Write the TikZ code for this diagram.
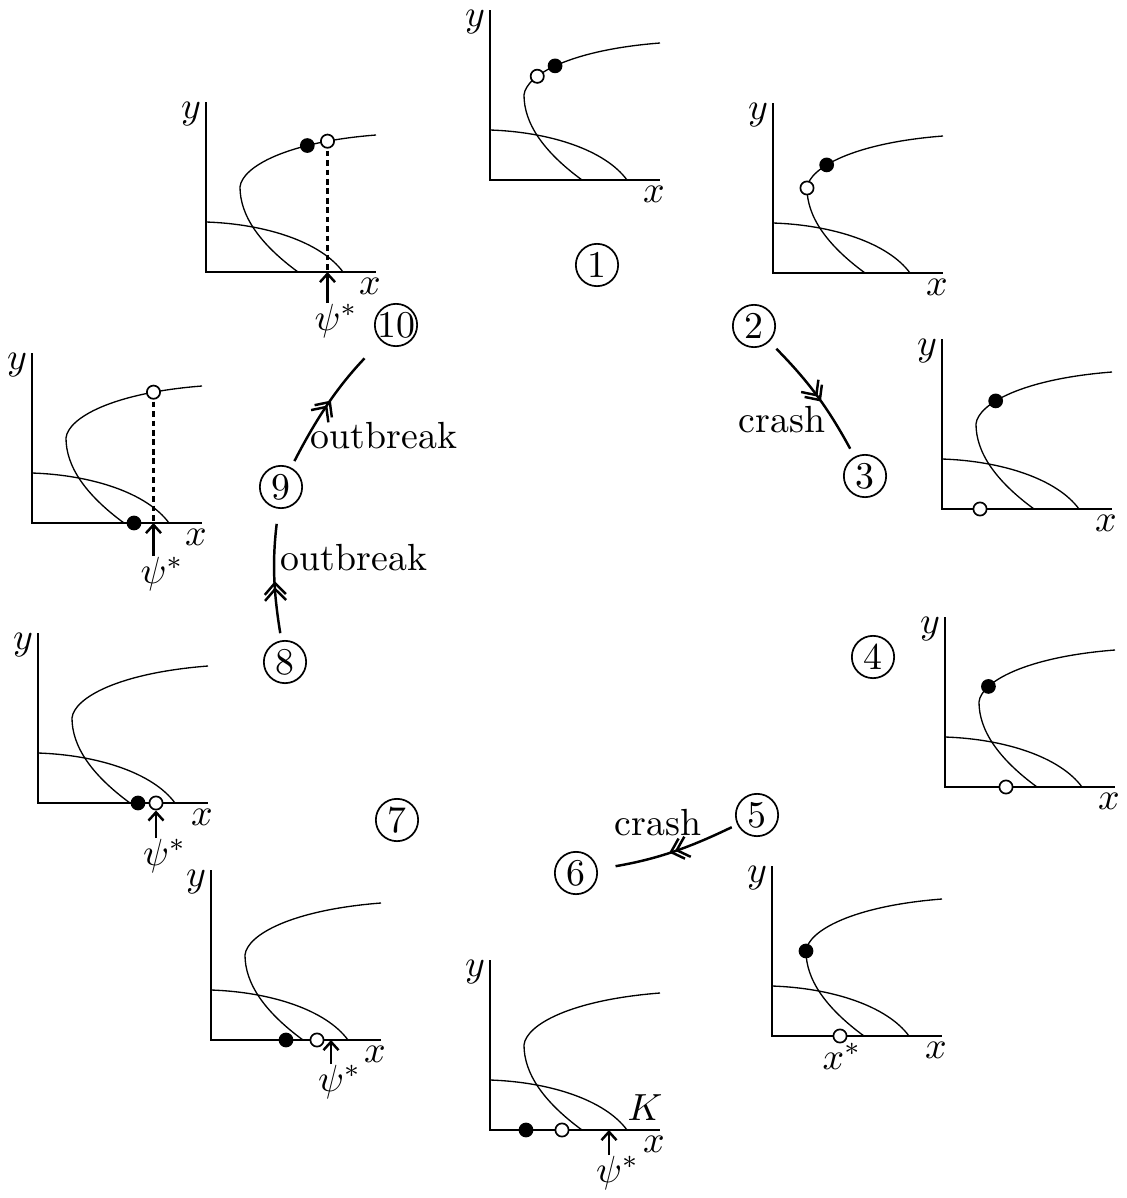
\documentclass[tikz,border=0pt]{standalone}
\usepackage{graphicx}
\usetikzlibrary{arrows.meta,decorations.markings}
\tikzset{
  x=0.2646pt, y=-0.2646pt,
  axisline/.style={line width=0.45pt},
  curveline/.style={line width=0.35pt},
  fulldot/.style={circle,fill=black,inner sep=0pt,minimum size=3.9pt},
  opendot/.style={circle,draw,fill=white,line width=0.45pt,inner sep=0pt,minimum size=3.5pt},
  num/.style={circle,draw,line width=0.45pt,inner sep=0pt,minimum size=11.2pt},
  psiarrow/.style={line width=0.65pt,-{Straight Barb[length=2.2pt,width=4pt]}},
  dashline/.style={dash pattern=on 1.5pt off 1pt, line width=0.6pt},
  conn/.style={line width=0.65pt, postaction=decorate, decoration={markings, mark=at position #1 with {\arrow{Straight Barb[length=3pt,width=5.6pt]}\pgftransformxshift{-1.6pt}\arrow{Straight Barb[length=3pt,width=5.6pt]}}}},
  lbl/.style={inner sep=0pt},
  plotbase/.pic={
    \draw[axisline] (0,-170) -- (0,0) -- (170,0);
    \draw[curveline] (0,-50) .. controls (60,-48) and (115,-30) .. (137,0);
    \draw[curveline] (92,0) .. controls (53.3,-28.4) and (34,-56.7) .. (34,-85) .. controls (36,-105) and (80,-130) .. (170,-137);
    \node[lbl] (-y) at (-15,-158) {$y$};
    \node[lbl] (-x) at (164,14) {$x$};
  }
}
\begin{document}
\begin{tikzpicture}
\useasboundingbox (0,0) rectangle (1126,1198);

% Plot 1
\begin{scope}[shift={(490,180)},yscale=-1]
  \pic (p1) {plotbase};
  \path (34,85) .. controls (36,105) and (80,130) .. (170,137)
     node[opendot,pos=0.3] (p1o) {} node[fulldot,pos=0.47] (p1f) {};
\end{scope}

% Plot 2
\begin{scope}[shift={(773,273)},yscale=-1]
  \pic (p2) {plotbase};
  \path (34,85) .. controls (36,105) and (80,130) .. (170,137)
     node[opendot,pos=0] (p2o) {} node[fulldot,pos=0.37] (p2f) {};
\end{scope}

% Plot 3
\begin{scope}[shift={(942,509)},yscale=-1]
  \pic (p3) {plotbase};
  \path (34,85) .. controls (36,105) and (80,130) .. (170,137)
     node[fulldot,pos=0.37] (p3f) {};
  \node[opendot] (p3o) at (38,0) {};
\end{scope}

% Plot 4
\begin{scope}[shift={(945,787)},yscale=-1]
  \pic (p4) {plotbase};
  \path (34,85) .. controls (36,105) and (80,130) .. (170,137)
     node[fulldot,pos=0.25] (p4f) {};
  \node[opendot] (p4o) at (61,0) {};
\end{scope}

% Plot 5
\begin{scope}[shift={(772,1036)},yscale=-1]
  \pic (p5) {plotbase};
  \node[fulldot] (p5f) at (34,85) {};
  \node[opendot] (p5o) at (68,0) {};
  \node[lbl] (p5s) at (70,-20) {$x^*$};
\end{scope}

% Plot 6
\begin{scope}[shift={(490,1130)},yscale=-1]
  \pic (p6) {plotbase};
  \coordinate (p6O) at (0,0);
  \node[fulldot] (p6f) at (36,0) {};
  \node[opendot] (p6o) at (72,0) {};
  \node[lbl] (p6k) at (155,22) {$K$};
  \node[lbl,anchor=north] (p6s) at (119,-25) {$\psi$\rlap{$^*$}};
  \draw[psiarrow] (p6s.north) -- (p6s.north |- p6O);
\end{scope}

% Plot 7
\begin{scope}[shift={(211,1040)},yscale=-1]
  \pic (p7) {plotbase};
  \coordinate (p7O) at (0,0);
  \node[fulldot] (p7f) at (75,0) {};
  \node[opendot] (p7o) at (106,0) {};
  \node[lbl,anchor=north] (p7s) at (120,-24) {$\psi$\rlap{$^*$}};
  \draw[psiarrow] (p7s.north) -- (p7s.north |- p7O);
\end{scope}

% Plot 8
\begin{scope}[shift={(38,803)},yscale=-1]
  \pic (p8) {plotbase};
  \node[fulldot] (p8f) at (100,0) {};
  \node[opendot] (p8o) at (118,0) {};
  \node[lbl,anchor=north] (p8s) at (118,-35) {$\psi$\rlap{$^*$}};
  \draw[psiarrow] (p8s.north) -- (p8o.south);
\end{scope}

% Plot 9
\begin{scope}[shift={(32,523)},yscale=-1]
  \pic (p9) {plotbase};
  \coordinate (p9O) at (0,0);
  \path (34,85) .. controls (36,105) and (80,130) .. (170,137)
     coordinate[pos=0.8] (p9c);
  \draw[dashline] (p9c) -- (p9c |- p9O);
  \node[opendot] (p9o) at (p9c) {};
  \node[fulldot] (p9f) at (102,0) {};
  \node[lbl,anchor=north] (p9s) at (121.5,-33) {$\psi$\rlap{$^*$}};
  \draw[psiarrow] (p9s.north) -- (p9s.north |- p9O);
\end{scope}

% Plot 10
\begin{scope}[shift={(206,272)},yscale=-1]
  \pic (p10) {plotbase};
  \coordinate (p10O) at (0,0);
  \path (34,85) .. controls (36,105) and (80,130) .. (170,137)
     coordinate[pos=0.8] (p10c) coordinate[pos=0.7] (p10d);
  \draw[dashline] (p10c) -- (p10c |- p10O);
  \node[opendot] (p10o) at (p10c) {};
  \node[fulldot] (p10f) at (p10d) {};
  \node[lbl,anchor=north] (p10s) at (121.5,-31) {$\psi$\rlap{$^*$}};
  \draw[psiarrow] (p10s.north) -- (p10s.north |- p10O);
\end{scope}

% Circled numbers
\node[num] (n1) at (597,265) {1};
\node[num] (n2) at (754,326) {2};
\node[num] (n3) at (865,476) {3};
\node[num] (n4) at (873,657) {4};
\node[num] (n5) at (757,815) {5};
\node[num] (n6) at (576,873) {6};
\node[num] (n7) at (397,820) {7};
\node[num] (n8) at (285,662) {8};
\node[num] (n9) at (281,487) {9};
\node[num] (n10) at (396,325) {\makebox[7pt]{10}};

% Connectors
\draw[conn=0.55, shorten <=2.6pt, shorten >=2.4pt] (n2) to[bend left=8] (n3);
\draw[conn=0.5, shorten <=1.6pt, shorten >=4.8pt] (n5) to[bend left=8] (n6);
\draw[conn=0.45, shorten <=1.9pt, shorten >=4pt] (n8) to[bend left=8] (n9);
\draw[conn=0.5, shorten <=1.9pt, shorten >=6.3pt] (n9) to[bend left=8] (n10);

% Labels
\node[lbl] (c1) at (782,420) {crash};
\node[lbl] (c2) at (658,823) {crash};
\node[lbl] (o1) at (384,436) {outbreak};
\node[lbl] (o2) at (354,558) {outbreak};
\end{tikzpicture}
\end{document}
